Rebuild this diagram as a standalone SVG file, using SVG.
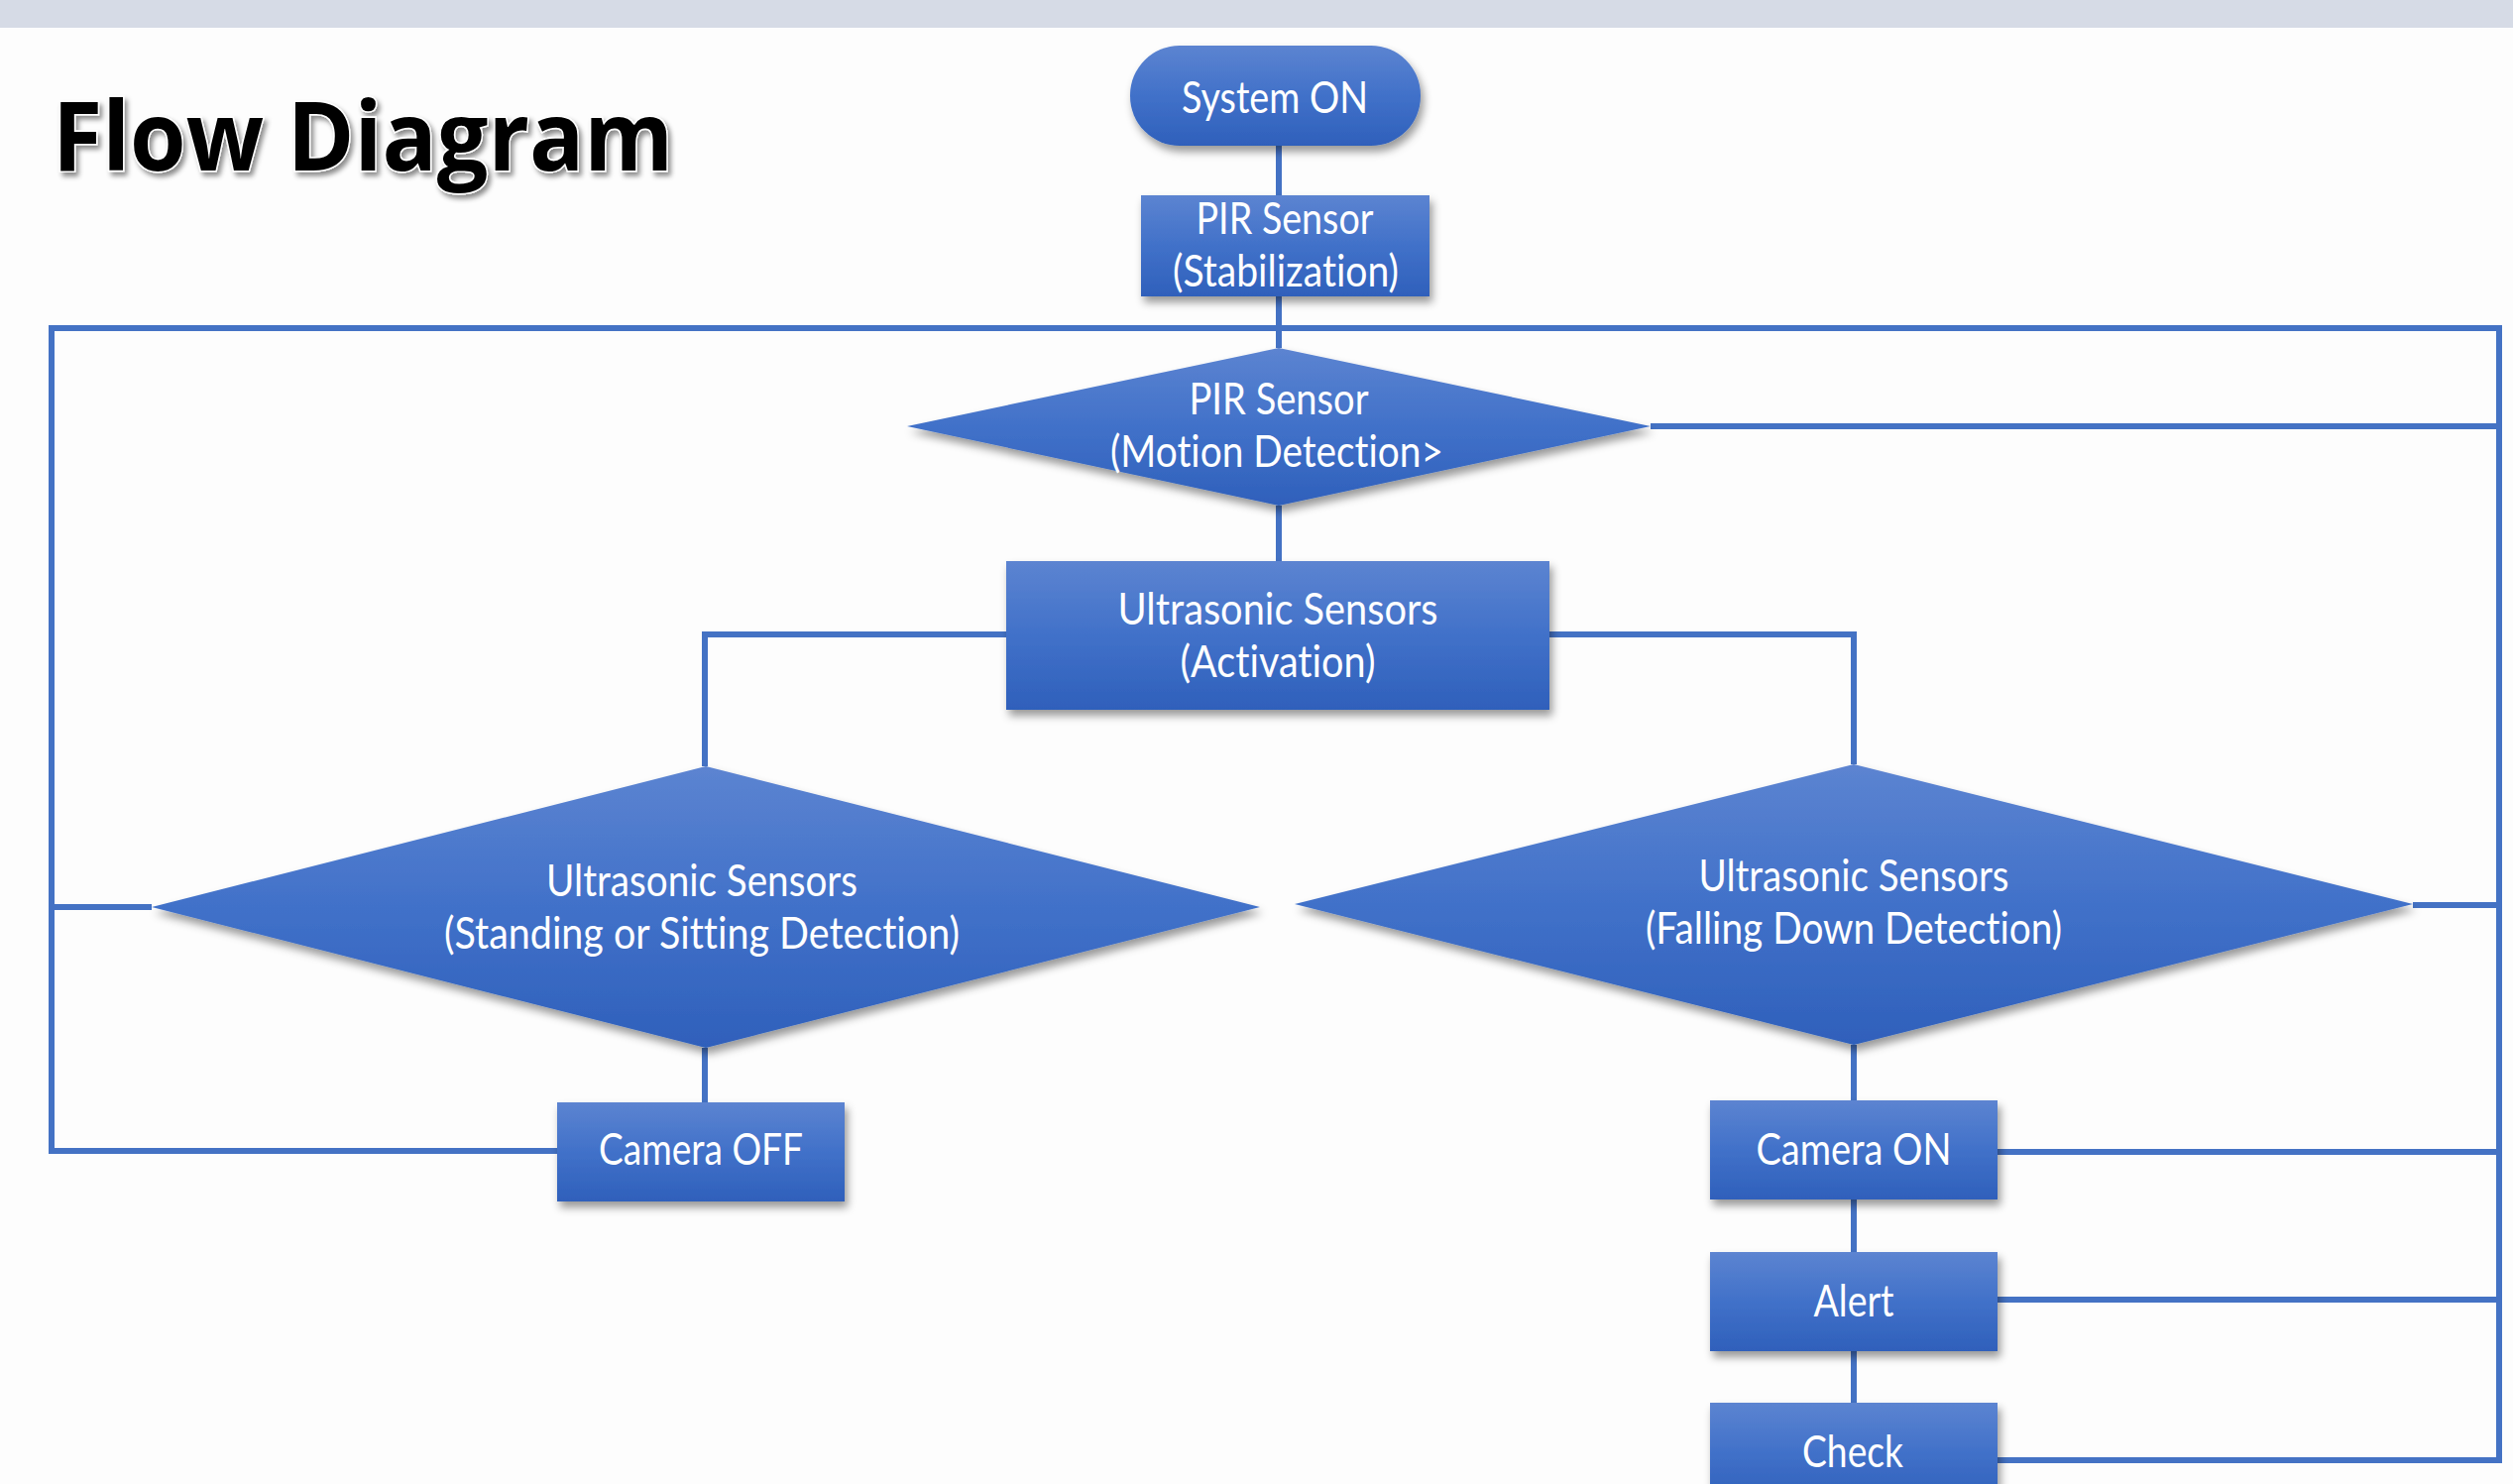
<svg xmlns="http://www.w3.org/2000/svg" width="2535" height="1497" viewBox="0 0 2535 1497">
<style>
.ln{fill:none;stroke:#4472c4;stroke-width:6;stroke-linejoin:miter}
.nd{fill:url(#g);filter:url(#sh)}
.tx{font-family:Lato,"Open Sans","Liberation Sans",sans-serif;font-size:44px;fill:#ffffff;text-anchor:middle;font-variant-ligatures:none;font-feature-settings:"liga" 0,"dlig" 0}
.ti{font-family:"Open Sans","Noto Sans","Liberation Sans",sans-serif;font-weight:700;font-size:96px;fill:#000000;stroke:#ffffff;stroke-width:3;paint-order:stroke;filter:url(#tsh)}
</style>
<defs>
<linearGradient id="g" x1="0" y1="0" x2="0" y2="1">
<stop offset="0" stop-color="#5c84d1"/>
<stop offset="0.5" stop-color="#4171c9"/>
<stop offset="1" stop-color="#2f60bb"/>
</linearGradient>
<filter id="sh" x="-10%" y="-10%" width="125%" height="135%">
<feDropShadow dx="3" dy="6" stdDeviation="4" flood-color="#000000" flood-opacity="0.4"/>
</filter>
<filter id="tsh" x="-5%" y="-10%" width="115%" height="135%">
<feDropShadow dx="3" dy="4" stdDeviation="2.5" flood-color="#000000" flood-opacity="0.45"/>
</filter>
</defs>
<rect x="0" y="0" width="2535" height="1497" fill="#fdfdfd"/>
<rect x="0" y="0" width="2535" height="28" fill="#d6dbe6"/>
<text class="ti" x="53" y="172" textLength="626" lengthAdjust="spacingAndGlyphs">Flow Diagram</text>
<g id="connectors">
<path class="ln" d="M1290,147 V197"/>
<path class="ln" d="M1290,299 V351"/>
<path class="ln" d="M1290,510 V566"/>
<path class="ln" d="M1015,640 H711 V773"/>
<path class="ln" d="M1563,640 H1870 V771"/>
<path class="ln" d="M711,1057 V1112"/>
<path class="ln" d="M1870,1054 V1110"/>
<path class="ln" d="M1870,1210 V1263"/>
<path class="ln" d="M1870,1363 V1415"/>
<path class="ln" d="M562,1161 H52 V331 H2521 V1473 H2015"/>
<path class="ln" d="M153,915 H52"/>
<path class="ln" d="M1665,430 H2521"/>
<path class="ln" d="M2434,913 H2521"/>
<path class="ln" d="M2015,1162 H2521"/>
<path class="ln" d="M2015,1311 H2521"/>
</g>
<g id="system-on">
<rect class="nd" x="1140" y="46" width="293" height="101" rx="50"/>
<text class="tx" x="1286" y="114" textLength="188" lengthAdjust="spacingAndGlyphs">System ON</text>
</g>
<g id="pir-stabilization">
<rect class="nd" x="1151" y="197" width="291" height="102"/>
<text class="tx" x="1296" y="236" textLength="179" lengthAdjust="spacingAndGlyphs">PIR Sensor</text>
<text class="tx" x="1297" y="289" textLength="228" lengthAdjust="spacingAndGlyphs">(Stabilization)</text>
</g>
<g id="pir-motion">
<polygon class="nd" points="1290,351 1665,430 1290,510 915,430"/>
<text class="tx" x="1290" y="418" textLength="181" lengthAdjust="spacingAndGlyphs">PIR Sensor</text>
<text class="tx" x="1288" y="471" textLength="336" lengthAdjust="spacingAndGlyphs">(Motion Detection&gt;</text>
</g>
<g id="us-activation">
<rect class="nd" x="1015" y="566" width="548" height="150"/>
<text class="tx" x="1289" y="630" textLength="323" lengthAdjust="spacingAndGlyphs">Ultrasonic Sensors</text>
<text class="tx" x="1289" y="683" textLength="197" lengthAdjust="spacingAndGlyphs">(Activation)</text>
</g>
<g id="us-standing">
<polygon class="nd" points="712,773 1271,915 712,1057 153,915"/>
<text class="tx" x="708" y="904" textLength="314" lengthAdjust="spacingAndGlyphs">Ultrasonic Sensors</text>
<text class="tx" x="708" y="957" textLength="520" lengthAdjust="spacingAndGlyphs">(Standing or Sitting Detection)</text>
</g>
<g id="us-falling">
<polygon class="nd" points="1870,771 2434,912 1870,1054 1306,912"/>
<text class="tx" x="1870" y="899" textLength="313" lengthAdjust="spacingAndGlyphs">Ultrasonic Sensors</text>
<text class="tx" x="1870" y="952" textLength="420" lengthAdjust="spacingAndGlyphs">(Falling Down Detection)</text>
</g>
<g id="camera-off">
<rect class="nd" x="562" y="1112" width="290" height="100"/>
<text class="tx" x="707" y="1175" textLength="206" lengthAdjust="spacingAndGlyphs">Camera OFF</text>
</g>
<g id="camera-on">
<rect class="nd" x="1725" y="1110" width="290" height="100"/>
<text class="tx" x="1870" y="1175" textLength="197" lengthAdjust="spacingAndGlyphs">Camera ON</text>
</g>
<g id="alert">
<rect class="nd" x="1725" y="1263" width="290" height="100"/>
<text class="tx" x="1870" y="1328" textLength="81" lengthAdjust="spacingAndGlyphs">Alert</text>
</g>
<g id="check">
<rect class="nd" x="1725" y="1415" width="290" height="100"/>
<text class="tx" x="1869" y="1480" textLength="102" lengthAdjust="spacingAndGlyphs">Check</text>
</g>
</svg>
